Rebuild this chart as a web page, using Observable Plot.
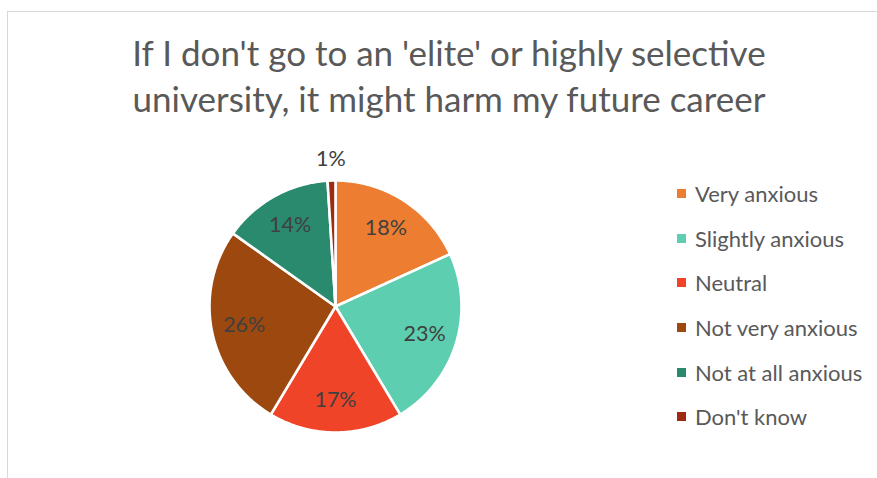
<!DOCTYPE html>
<html>
<head>
<meta charset="utf-8">
<script src="https://cdn.jsdelivr.net/npm/d3@7"></script>
<script src="https://cdn.jsdelivr.net/npm/@observablehq/plot@0.6"></script>
<style>
  html, body { margin: 0; padding: 0; background: #fff; }
  #page { position: relative; width: 877px; height: 478px; overflow: hidden; background: #fff; font-family: Lato, "Open Sans", sans-serif; }
  #frame { position: absolute; left: 7px; top: 11px; right: -4px; bottom: -4px; border-top: 1.5px solid #d9d9d9; border-left: 1.5px solid #d9d9d9; }
  #title { position: absolute; left: 0; top: 29px; width: 898px; text-align: center; color: #595959; font-size: 35px; line-height: 46px; }
  #chart { position: absolute; left: 170px; top: 141px; }
  #legend { position: absolute; left: 677px; top: 171px; }
  .row { display: flex; align-items: center; height: 44.7px; color: #595959; font-size: 22px; }
  .sw { width: 9px; height: 9px; margin-right: 9px; flex: none; }
</style>
</head>
<body>
<div id="page">
  <div id="frame"></div>
  <div id="title">If I don't go to an 'elite' or highly selective<br>university, it might harm my future career</div>
  <div id="chart"></div>
  <div id="legend"></div>
</div>
<script>
const categories = ["Very anxious", "Slightly anxious", "Neutral", "Not very anxious", "Not at all anxious", "Don't know"];
const values = [18, 23, 17, 26, 14, 1];
const labels = ["18%", "23%", "17%", "26%", "14%", "1%"];
const colors = ["#ED7D31", "#5DCEAF", "#EF4427", "#9C480E", "#2A8A6E", "#9E2A10"];

const total = d3.sum(values);
const D = 165 / 126;
// slices clockwise from 12 o'clock
let acc = 0;
const slices = values.map((v, i) => {
  const a0 = acc / total * 2 * Math.PI;
  acc += v;
  const a1 = acc / total * 2 * Math.PI;
  return {cat: categories[i], a0, a1, label: labels[i], value: v};
});
const poly = [];
for (const s of slices) {
  poly.push({cat: s.cat, x: 0, y: 0});
  const n = Math.max(2, Math.ceil((s.a1 - s.a0) / 0.01));
  for (let k = 0; k <= n; k++) {
    const a = s.a0 + (s.a1 - s.a0) * k / n;
    poly.push({cat: s.cat, x: Math.sin(a), y: Math.cos(a)});
  }
}
const textRows = slices.map(s => {
  const m = (s.a0 + s.a1) / 2;
  const r = s.value < 3 ? 1.17 : 0.74;
  return {x: r * Math.sin(m), y: r * Math.cos(m), text: s.label};
});

const chart = Plot.plot({
  width: 330, height: 330, margin: 0,
  style: {fontFamily: "Lato, 'Open Sans', sans-serif", background: "transparent"},
  x: {domain: [-D, D], axis: null},
  y: {domain: [-D, D], axis: null},
  color: {domain: categories, range: colors},
  marks: [
    Plot.line(poly, {x: "x", y: "y", z: "cat", fill: "cat", stroke: "white", strokeWidth: 2.6, strokeLinejoin: "round", curve: "linear-closed"}),
    Plot.text(textRows, {x: "x", y: "y", text: "text", fill: "#404040", fontSize: 21.5})
  ]
});
document.getElementById("chart").appendChild(chart);

const legend = document.getElementById("legend");
categories.forEach((c, i) => {
  const row = document.createElement("div");
  row.className = "row";
  const sw = document.createElement("span");
  sw.className = "sw";
  sw.style.background = colors[i];
  const t = document.createElement("span");
  t.textContent = c;
  row.appendChild(sw); row.appendChild(t);
  legend.appendChild(row);
});
</script>
</body>
</html>
